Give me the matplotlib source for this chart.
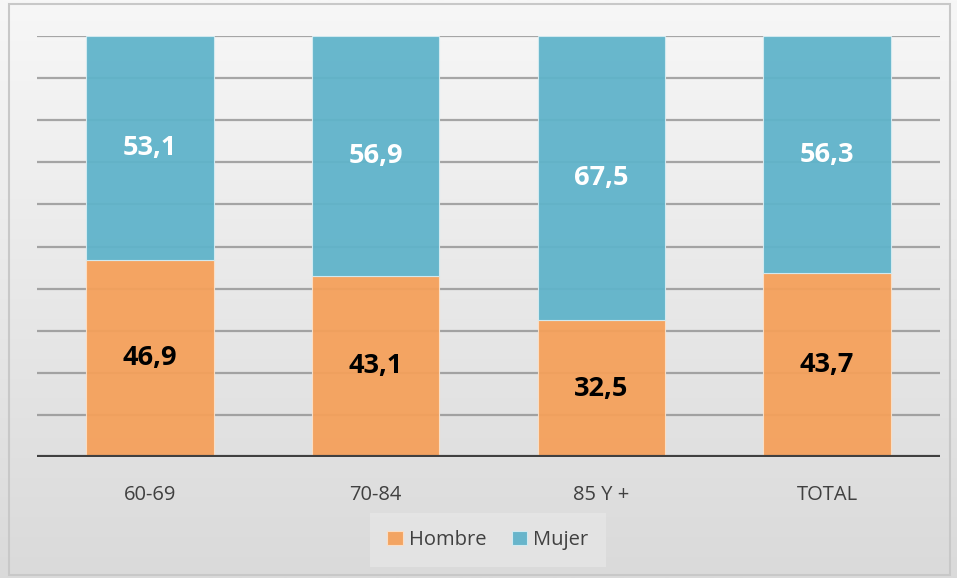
import numpy as np
import matplotlib.pyplot as plt
from matplotlib.patches import Rectangle

categorias = ['60-69', '70-84', '85 Y +', 'TOTAL']
hombre = [46.9, 43.1, 32.5, 43.7]
mujer = [53.1, 56.9, 67.5, 56.3]

plt.rcParams['font.family'] = ['Open Sans', 'DejaVu Sans']

fig = plt.figure(figsize=(9.57, 5.78), dpi=100)

# fondo degradado
fondo = fig.add_axes([0, 0, 1, 1], zorder=-10)
grad = np.linspace(0, 1, 256).reshape(-1, 1)
fondo.imshow(grad, aspect='auto', cmap=plt.matplotlib.colors.LinearSegmentedColormap.from_list(
    'g', ['#f7f7f7', '#dadada']), extent=[0, 1, 0, 1], origin='upper')
fondo.add_patch(Rectangle((0.009, 0.006), 0.984, 0.987, transform=fondo.transAxes,
                          fill=False, edgecolor='#c8c8c8', lw=1.5))
fondo.axis('off')

ax = fig.add_axes([37 / 957, 121 / 578, 903 / 957, 421 / 578])
ax.patch.set_alpha(0)
x = np.arange(len(categorias))
ancho = 0.565
b1 = ax.bar(x, hombre, ancho, color='#f5a05a', edgecolor='#fbe0c8', lw=0.8,
            label='Hombre', zorder=2, alpha=0.94)
b2 = ax.bar(x, mujer, ancho, bottom=hombre, color='#5fb3ca', edgecolor='#d5ecf2', lw=0.8,
            label='Mujer', zorder=2, alpha=0.94)

for i in range(len(categorias)):
    ax.text(x[i], hombre[i] / 2, f'{hombre[i]:.1f}'.replace('.', ','), ha='center', va='center',
            fontsize=19.5, fontweight='bold', color='black', zorder=4)
    ax.text(x[i], hombre[i] + mujer[i] / 2, f'{mujer[i]:.1f}'.replace('.', ','), ha='center',
            va='center', fontsize=19.5, fontweight='bold', color='white', zorder=4)

ax.set_xlim(-0.5, len(categorias) - 0.5)
ax.set_ylim(0, 100)
for v in range(10, 101, 10):
    ax.axhline(v, color='#8c8c8c', lw=1.6, alpha=0.75, zorder=1)
ax.axhline(0, color='#404040', lw=3, zorder=5)

for s in ax.spines.values():
    s.set_visible(False)
ax.set_yticks([])
ax.set_xticks(x)
ax.set_xticklabels(categorias, fontsize=14.5, color='#404040')
ax.tick_params(axis='x', length=0, pad=20)

leg = fig.legend(handles=[b1, b2], loc='center', bbox_to_anchor=(488 / 957, 1 - 540 / 578),
                 ncol=2, frameon=True, fontsize=14.5, handlelength=0.75, handleheight=0.75,
                 handletextpad=0.3, columnspacing=1.3, borderpad=0.55)
leg.get_frame().set_facecolor('#e6e6e6')
leg.get_frame().set_edgecolor('none')
leg.get_frame().set_boxstyle('square')
for t in leg.get_texts():
    t.set_color('#404040')

fig.savefig('out.png', dpi=100)
